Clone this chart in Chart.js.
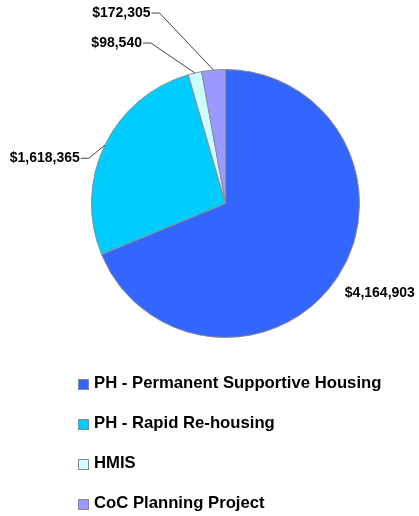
<!DOCTYPE html>
<html>
<head>
<meta charset="utf-8">
<script src="https://cdn.jsdelivr.net/npm/chart.js@4/dist/chart.umd.min.js"></script>
<style>
	html, body { margin: 0; padding: 0; background: #fff; }
	#wrap { position: relative; width: 419px; height: 516px; }
	#legend { position: absolute; left: 78px; top: 373px; margin: 0; padding: 0; list-style: none; }
	#legend li { height: 40px; display: flex; align-items: flex-start; font: bold 16.7px "Liberation Sans", Arial, sans-serif; color: #000; }
	#legend span.box { width: 9px; height: 9px; border: 1px solid #888; margin: 6px 5px 0 0; }
</style>
</head>
<body>
<div id="wrap">
	<canvas id="pie" width="419" height="516"></canvas>
	<ul id="legend"></ul>
</div>
<script>
const categories = ['PH - Permanent Supportive Housing', 'PH - Rapid Re-housing', 'HMIS', 'CoC Planning Project'];
const amounts = [4164903, 1618365, 98540, 172305];
const sliceColors = ['#3366FF', '#00CCFF', '#CCFFFF', '#9999FF'];

// where each value label sits relative to its slice edge (elbow of the leader line)
const labelElbow = [[8, 15, false], [-16, 13, true], [-44, -30, true], [-54, -57, true]];

const money = v => '$' + v.toLocaleString('en-US');

const leaderLabels = {
	id: 'leaderLabels',
	afterDatasetsDraw(chart) {
		const ctx = chart.ctx;
		const meta = chart.getDatasetMeta(0);
		ctx.save();
		ctx.font = 'bold 14px "Liberation Sans", Arial, sans-serif';
		ctx.textBaseline = 'middle';
		ctx.strokeStyle = '#444';
		ctx.lineWidth = 1;
		meta.data.forEach((arc, i) => {
			const p = arc.getProps(['x', 'y', 'startAngle', 'endAngle', 'outerRadius'], true);
			const mid = (p.startAngle + p.endAngle) / 2;
			const ex = p.x + Math.cos(mid) * p.outerRadius;
			const ey = p.y + Math.sin(mid) * p.outerRadius;
			const [dx, dy, line] = labelElbow[i];
			const txt = money(chart.data.datasets[0].data[i]);
			if (!line) {
				ctx.fillStyle = '#000';
				ctx.textAlign = 'left';
				ctx.fillText(txt, ex + dx, ey + dy);
				return;
			}
			const bx = ex + dx, by = ey + dy;
			ctx.beginPath();
			ctx.moveTo(ex, ey);
			ctx.lineTo(bx, by);
			ctx.lineTo(bx - 8, by);
			ctx.stroke();
			ctx.fillStyle = '#000';
			ctx.textAlign = 'right';
			ctx.fillText(txt, bx - 9, by);
		});
		ctx.restore();
	}
};

const chart = new Chart(document.getElementById('pie').getContext('2d'), {
	type: 'pie',
	data: {
		labels: categories,
		datasets: [{
			data: amounts,
			backgroundColor: sliceColors,
			borderColor: '#8c8c8c',
			borderWidth: 1
		}]
	},
	options: {
		responsive: false,
		animation: false,
		radius: 134,
		layout: { padding: { left: 52, right: 20, top: 60, bottom: 169 } },
		plugins: {
			legend: { display: false },
			tooltip: { enabled: false }
		}
	},
	plugins: [leaderLabels]
});

// html legend, one row per category
const legendList = document.getElementById('legend');
chart.options.plugins.legend.labels.generateLabels(chart).forEach(item => {
	const li = document.createElement('li');
	const box = document.createElement('span');
	box.className = 'box';
	box.style.background = item.fillStyle;
	li.appendChild(box);
	li.appendChild(document.createTextNode(item.text));
	legendList.appendChild(li);
});
</script>
</body>
</html>
